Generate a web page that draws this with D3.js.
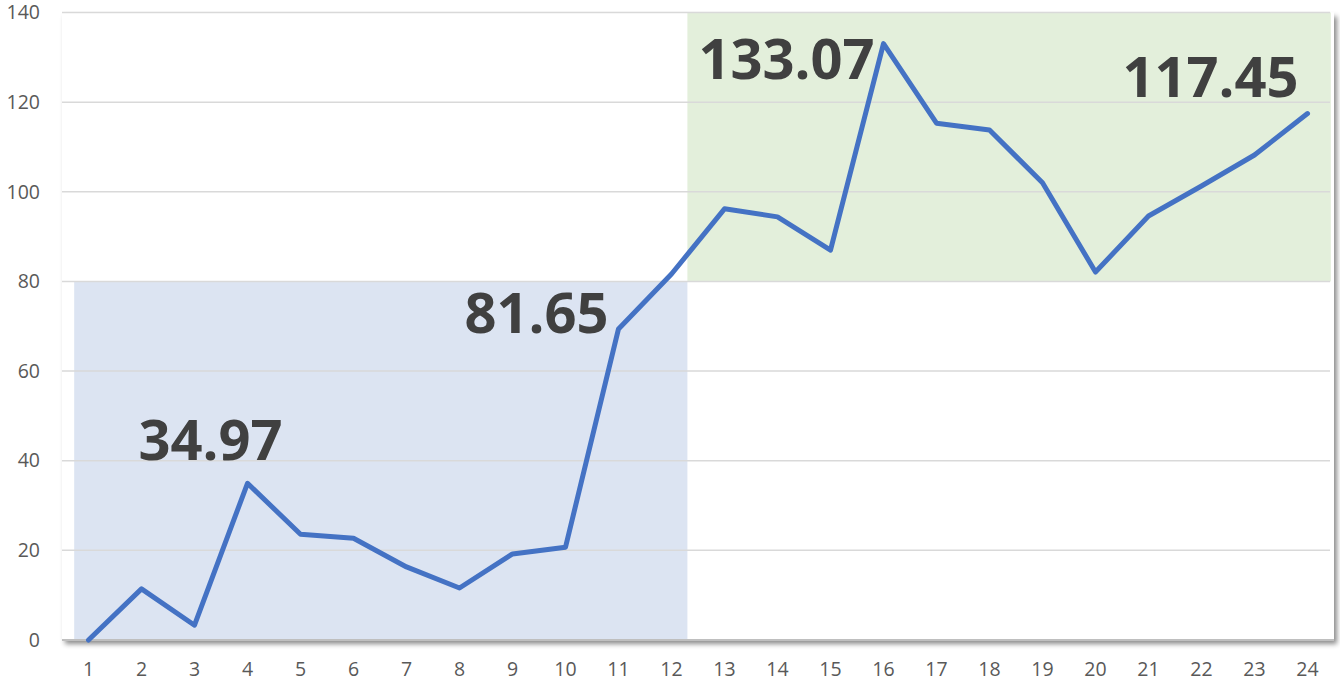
<!DOCTYPE html>
<html>
<head>
<meta charset="utf-8">
<script src="https://cdn.jsdelivr.net/npm/d3@7"></script>
<style>
  body { margin: 0; background: #fff; }
  svg { display: block; }
</style>
</head>
<body>
<div id="chart-container"></div>
<script>
// data
const categories = d3.range(1, 25);
const values = [0, 11.4, 3.3, 34.97, 23.6, 22.7, 16.3, 11.6, 19.2, 20.7, 69.4, 81.65,
  96.2, 94.4, 87.0, 133.07, 115.3, 113.8, 102.0, 82.1, 94.6, 101.3, 108.2, 117.45];
const yTicks = [0, 20, 40, 60, 80, 100, 120, 140];
const labelPoints = [4, 12, 16, 24];
// shaded boxes in data units (category index, value)
const boxStarts = [0.73, 12.3];
const boxEnds = [12.3, 24.44];
const boxLows = [0, 80];
const boxHighs = [80, 140];
const boxColors = ["#dce4f2", "#e3efdb"];

const width = 1340, height = 684;
const marginLeft = 62, marginRight = 6, marginTop = 12.5, marginBottom = 44;

const svg = d3.select("#chart-container").append("svg")
  .attr("width", width).attr("height", height);

const defs = svg.append("defs");
const f = defs.append("filter").attr("id", "shadow")
  .attr("x", "-5%").attr("y", "-5%").attr("width", "110%").attr("height", "110%");
f.append("feDropShadow").attr("dx", 3).attr("dy", 4).attr("stdDeviation", 2.5)
  .attr("flood-color", "#000").attr("flood-opacity", 0.45);

const x = d3.scaleBand().domain(categories)
  .range([marginLeft, width - marginRight]);
const xLin = d3.scaleLinear().domain([1, 24])
  .range([x(1) + x.bandwidth() / 2, x(24) + x.bandwidth() / 2]);
const y = d3.scaleLinear().domain([0, 140]).range([height - marginBottom, marginTop]);

// plot area with shadow
svg.append("rect")
  .attr("x", marginLeft).attr("y", marginTop)
  .attr("width", width - marginRight - marginLeft)
  .attr("height", height - marginBottom - marginTop)
  .attr("fill", "#fff")
  .attr("filter", "url(#shadow)");

// shaded boxes
svg.append("g").selectAll("rect")
  .data(boxStarts)
  .join("rect")
  .attr("x", (d) => xLin(d))
  .attr("width", (d, i) => xLin(boxEnds[i]) - xLin(d))
  .attr("y", (d, i) => y(boxHighs[i]))
  .attr("height", (d, i) => y(boxLows[i]) - y(boxHighs[i]))
  .attr("fill", (d, i) => boxColors[i]);

// gridlines
svg.append("g").selectAll("line")
  .data(yTicks.filter((t) => t > 0))
  .join("line")
  .attr("x1", marginLeft).attr("x2", width - marginRight - 4)
  .attr("y1", (d) => y(d)).attr("y2", (d) => y(d))
  .attr("stroke", "#d9d9d9").attr("stroke-width", 1.5);

// base line
svg.append("line")
  .attr("x1", marginLeft).attr("x2", width - marginRight)
  .attr("y1", y(0)).attr("y2", y(0))
  .attr("stroke", "#bfbfbf").attr("stroke-width", 2);

// y axis
const yAxisG = svg.append("g")
  .attr("transform", `translate(${marginLeft - 22}, 0)`)
  .call(d3.axisLeft(y).tickValues(yTicks).tickSize(0).tickPadding(0));
yAxisG.select(".domain").remove();
yAxisG.selectAll("text")
  .attr("font-family", "'Open Sans', sans-serif")
  .attr("font-size", 19.5).attr("fill", "#595959");

// x axis
const xAxisG = svg.append("g")
  .attr("transform", `translate(0, ${height - marginBottom + 22})`)
  .call(d3.axisBottom(x).tickSize(0).tickPadding(0));
xAxisG.select(".domain").remove();
xAxisG.selectAll("text")
  .attr("font-family", "'Open Sans', sans-serif")
  .attr("font-size", 19.5).attr("fill", "#595959");

// line
const line = d3.line()
  .x((d, i) => x(categories[i]) + x.bandwidth() / 2)
  .y((d) => y(d));
svg.append("path")
  .datum(values)
  .attr("d", line)
  .attr("fill", "none")
  .attr("stroke", "#4472c4")
  .attr("stroke-width", 5)
  .attr("stroke-linejoin", "round")
  .attr("stroke-linecap", "round");

// big value labels, offsets tuned by eye
const labelDx = [-37, -135, -97, -97];
const labelDy = [-23, 59, 35, -17];
svg.append("g").selectAll("text")
  .data(labelPoints)
  .join("text")
  .attr("x", (d, i) => x(d) + x.bandwidth() / 2 + labelDx[i])
  .attr("y", (d, i) => y(values[d - 1]) + labelDy[i])
  .attr("text-anchor", "middle")
  .attr("font-family", "'Open Sans', sans-serif")
  .attr("font-weight", 700)
  .attr("font-size", 56)
  .attr("fill", "#404040")
  .text((d) => values[d - 1].toFixed(2));
</script>
</body>
</html>
